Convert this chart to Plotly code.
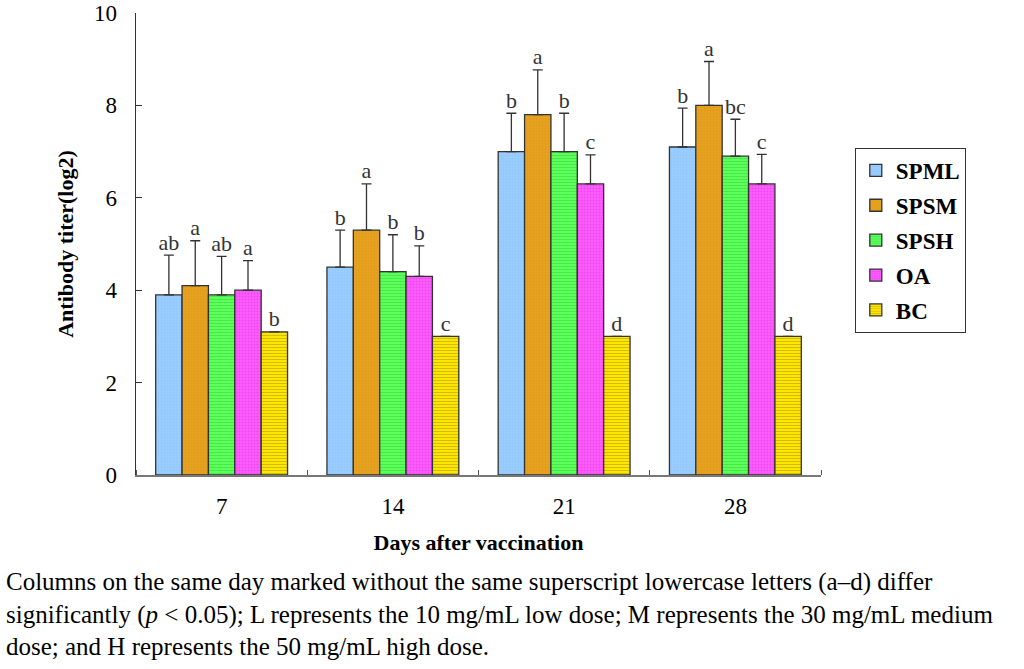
import plotly.graph_objects as go

days = ["7", "14", "21", "28"]
groups = ["SPML", "SPSM", "SPSH", "OA", "BC"]

titer = {
    "SPML": [3.9, 4.5, 7.0, 7.1],
    "SPSM": [4.1, 5.3, 7.8, 8.0],
    "SPSH": [3.9, 4.4, 7.0, 6.9],
    "OA": [4.0, 4.3, 6.3, 6.3],
    "BC": [3.1, 3.0, 3.0, 3.0],
}
sd = {
    "SPML": [0.86, 0.8, 0.83, 0.84],
    "SPSM": [0.97, 1.0, 0.97, 0.95],
    "SPSH": [0.83, 0.8, 0.83, 0.8],
    "OA": [0.64, 0.66, 0.63, 0.64],
    "BC": [0.0, 0.0, 0.0, 0.0],
}
letters = {
    "SPML": ["ab", "b", "b", "b"],
    "SPSM": ["a", "a", "a", "a"],
    "SPSH": ["ab", "b", "b", "bc"],
    "OA": ["a", "b", "c", "c"],
    "BC": ["b", "c", "d", "d"],
}

styles = {
    "SPML": dict(bg="#99CCFF", fg="#8EC2F5", shape="."),
    "SPSM": dict(bg="#E6A11E", fg="#D9961A", shape="."),
    "SPSH": dict(bg="#5CFF5C", fg="#33D633", shape="-"),
    "OA": dict(bg="#FF5CFF", fg="#D633D6", shape="."),
    "BC": dict(bg="#FFE600", fg="#A89400", shape="-"),
}

serif = "Liberation Serif, Times New Roman, serif"
bargap = 0.23
n = len(groups)
bar_w = (1 - bargap) / n
xpos = list(range(len(days)))

fig = go.Figure()
for j, g in enumerate(groups):
    st = styles[g]
    fig.add_trace(
        go.Bar(
            x=xpos,
            y=titer[g],
            name=g,
            legendgroup=g,
            marker=dict(
                color=st["bg"],
                line=dict(color="#333333", width=1.3),
                pattern=dict(
                    shape=st["shape"],
                    bgcolor=st["bg"],
                    fgcolor=st["fg"],
                    size=3,
                    solidity=0.35,
                    fillmode="overlay",
                ),
            ),
            error_y=dict(
                type="data",
                symmetric=False,
                array=sd[g],
                arrayminus=[0] * len(days),
                color="#333333",
                thickness=1.3,
                width=5,
            ),
        )
    )

# significance letters over each error bar; drawn on the label axis (y2),
# which has the same range as y
lx, ly, lt = [], [], []
for j, g in enumerate(groups):
    for i in xpos:
        lx.append(i + (j - (n - 1) / 2) * bar_w)
        ly.append(titer[g][i] + sd[g][i])
        lt.append(letters[g][i])
fig.add_trace(
    go.Scatter(
        x=lx,
        y=ly,
        text=lt,
        mode="text",
        textposition="top center",
        textfont=dict(family=serif, size=22, color="#333333"),
        yaxis="y2",
        showlegend=False,
        hoverinfo="skip",
    )
)

fig.add_annotation(
    x=-0.1605,
    y=-0.197,
    xref="paper",
    yref="paper",
    xanchor="left",
    yanchor="top",
    align="left",
    showarrow=False,
    text=(
        "Columns on the same day marked without the same superscript lowercase letters (a\u2013d) differ<br>"
        "significantly (<i>p</i> &lt; 0.05); L represents the 10 mg/mL low dose; M represents the 30 mg/mL medium<br>"
        "dose; and H represents the 50 mg/mL high dose."
    ),
    font=dict(family=serif, size=25, color="black"),
)

# plot area is 704px wide: the first 19px hold the free axis with the tick
# labels, so the numbers sit clear of the axis line as in the original
fig.update_layout(
    width=1024,
    height=669,
    template="simple_white",
    paper_bgcolor="white",
    plot_bgcolor="white",
    barmode="group",
    bargap=bargap,
    bargroupgap=0,
    margin=dict(l=117, r=203, t=13, b=194),
    font=dict(family=serif, size=22, color="black"),
    showlegend=True,
    legend=dict(
        x=1.048,
        y=0.708,
        xanchor="left",
        yanchor="top",
        bgcolor="white",
        bordercolor="#333333",
        borderwidth=1,
        tracegroupgap=2,
        itemwidth=30,
        font=dict(family=serif, size=23, color="black", weight="bold"),
    ),
    xaxis=dict(
        domain=[19 / 704, 1],
        range=[-0.5, len(days) - 0.5],
        tickvals=xpos,
        ticktext=days,
        automargin=False,
        showline=True,
        linecolor="#777777",
        linewidth=2,
        ticks="",
        minor=dict(
            tickmode="linear",
            tick0=0.5,
            dtick=1,
            ticks="inside",
            ticklen=5,
            tickcolor="#555555",
            showgrid=False,
        ),
        showgrid=False,
        zeroline=False,
        ticklabelstandoff=9,
        tickfont=dict(family=serif, size=23),
        title=dict(
            text="<b>Days after vaccination</b>",
            font=dict(family=serif, size=22),
            standoff=17,
        ),
    ),
    yaxis=dict(
        range=[0, 10],
        dtick=2,
        automargin=False,
        showline=True,
        linecolor="#333333",
        linewidth=1.2,
        ticks="inside",
        ticklen=6,
        tickcolor="#333333",
        showticklabels=False,
        showgrid=False,
        zeroline=False,
        title=dict(
            text="<b>Antibody titer(log2)</b>",
            font=dict(family=serif, size=22),
            standoff=55,
        ),
    ),
    yaxis2=dict(
        overlaying="y",
        anchor="free",
        position=0,
        side="left",
        range=[0, 10],
        dtick=2,
        automargin=False,
        showline=False,
        ticks="",
        showgrid=False,
        zeroline=False,
        tickfont=dict(family=serif, size=23),
    ),
)

# drop the page's default body margin so the figure sits at the window corner
fig.write_html(
    "out.html",
    config={"displayModeBar": False},
    post_script="document.body.style.margin='0';",
)
